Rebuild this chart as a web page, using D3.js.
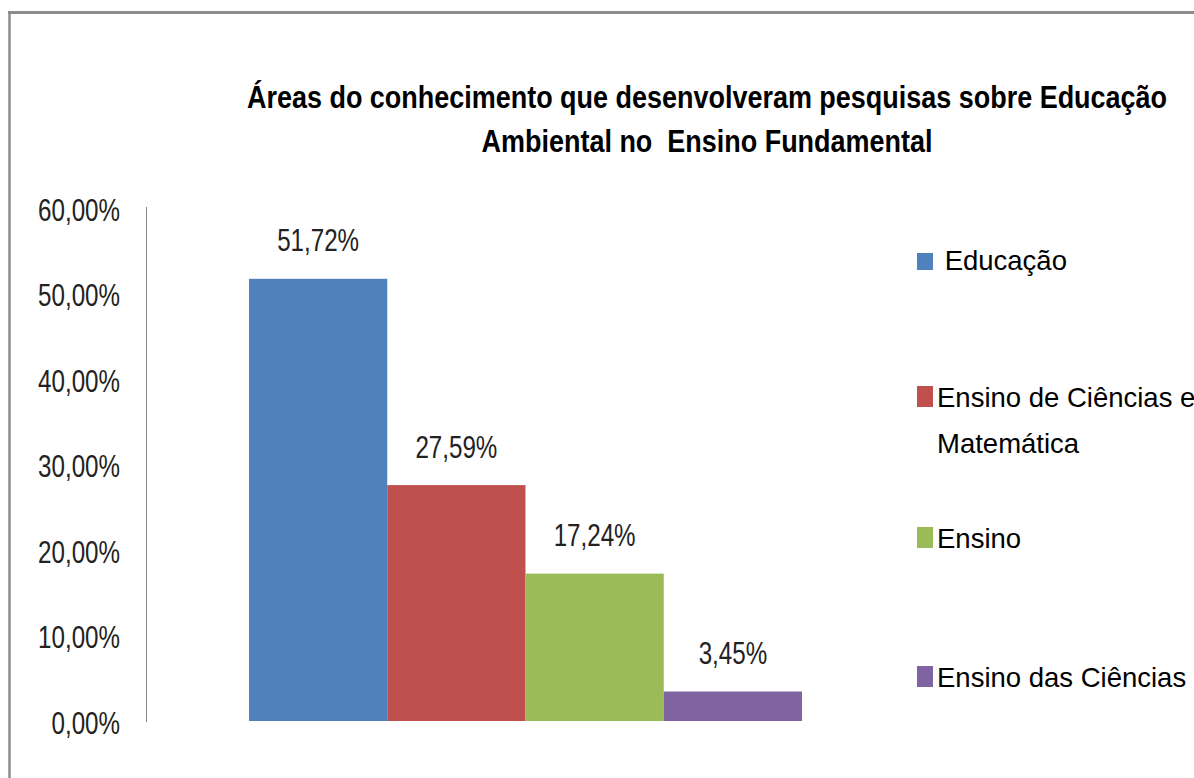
<!DOCTYPE html>
<html>
<head>
<meta charset="utf-8">
<script src="https://cdn.jsdelivr.net/npm/d3@7"></script>
<style>
  body { margin: 0; background: #fff; }
  svg { display: block; }
</style>
</head>
<body>
<div id="chart"></div>
<script>
// chart data
var series = ["Educação", "Ensino de Ciências e Matemática", "Ensino", "Ensino das Ciências"];
var values = [51.72, 27.59, 17.24, 3.45];
var colors = ["#4F81BD", "#C0504D", "#9BBB59", "#8064A2"];
var yTicks = [0, 10, 20, 30, 40, 50, 60];
var titleLines = ["Áreas do conhecimento que desenvolveram pesquisas sobre Educação", "Ambiental no  Ensino Fundamental"];
var legendLines = [[" Educação"], ["Ensino de Ciências e", "Matemática"], ["Ensino"], ["Ensino das Ciências"]];

var width = 1194, height = 778;

var svg = d3.select("#chart").append("svg")
    .attr("width", width)
    .attr("height", height);

// outer frame (only top and left edges visible)
svg.append("line")
    .attr("x1", 8).attr("x2", width).attr("y1", 12.5).attr("y2", 12.5)
    .attr("stroke", "#8c8c8c").attr("stroke-width", 3);
svg.append("line")
    .attr("x1", 9.5).attr("x2", 9.5).attr("y1", 11).attr("y2", height)
    .attr("stroke", "#8c8c8c").attr("stroke-width", 2.5);

// condensed text helper: scale glyphs horizontally
function condText(g, x, y, txt, k, anchor) {
    return g.append("text")
        .attr("transform", `translate(${x},${y}) scale(${k},1)`)
        .attr("text-anchor", anchor)
        .text(txt);
}

var y = d3.scaleLinear().domain([0, 60]).range([721, 208]);
var x = d3.scaleBand().domain(series).range([249, 802]).padding(0);

// title
var title = svg.append("g")
    .style("font-family", "'Liberation Sans', Arial, sans-serif")
    .style("font-weight", "bold")
    .style("font-size", "31px")
    .attr("fill", "#000");
titleLines.forEach(function(t, i) {
    condText(title, 707, 108 + i * 44, t, 0.87, "middle")
        .style("white-space", "pre");
});

// y axis
var yAxis = svg.append("g")
    .style("font-family", "'Liberation Sans', Arial, sans-serif")
    .style("font-size", "32px")
    .attr("fill", "#222");

yAxis.append("line")
    .attr("x1", 146.5).attr("x2", 146.5)
    .attr("y1", y(60) - 1).attr("y2", y(0) + 1)
    .attr("stroke", "#868686").attr("stroke-width", 1);

yTicks.forEach(function(t) {
    condText(yAxis, 120, y(t) + 12.5, d3.format(".2f")(t).replace(".", ",") + "%", 0.755, "end");
});

// bars
svg.append("g").selectAll("rect")
    .data(values)
    .join("rect")
    .attr("x", (d, i) => x(series[i]))
    .attr("width", x.bandwidth())
    .attr("y", d => y(d))
    .attr("height", d => y(0) - y(d))
    .attr("fill", (d, i) => colors[i]);

// data labels
var labels = svg.append("g")
    .style("font-family", "'Liberation Sans', Arial, sans-serif")
    .style("font-size", "32px")
    .attr("fill", "#222");
values.forEach(function(v, i) {
    condText(labels, x(series[i]) + x.bandwidth() / 2, y(v) - 27.5,
        d3.format(".2f")(v).replace(".", ",") + "%", 0.755, "middle");
});

// legend
var legend = svg.append("g")
    .style("font-family", "'Liberation Sans', Arial, sans-serif")
    .style("font-size", "27.5px")
    .attr("fill", "#000");
var legendBase = [270, 407, 548, 687];
legendLines.forEach(function(lines, i) {
    var sq = i === 0 ? 17 : 21;
    legend.append("rect")
        .attr("x", 917).attr("y", legendBase[i] - sq)
        .attr("width", 16).attr("height", sq)
        .attr("fill", colors[i]);
    lines.forEach(function(t, j) {
        legend.append("text")
            .attr("x", 937)
            .attr("y", legendBase[i] + j * 46)
            .style("white-space", "pre")
            .text(t);
    });
});
</script>
</body>
</html>
